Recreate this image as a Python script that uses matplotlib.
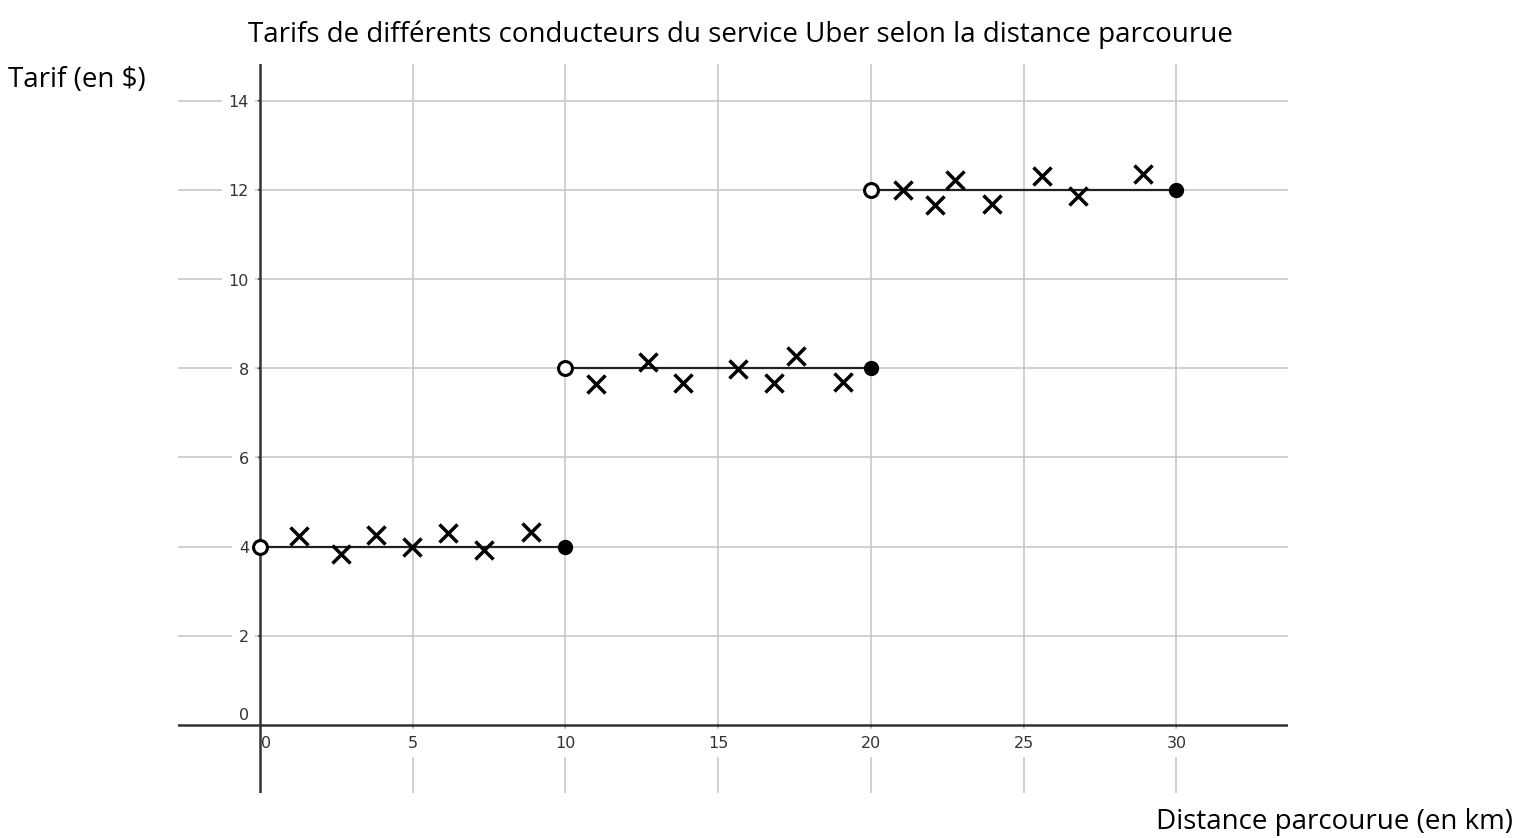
import matplotlib

matplotlib.use("Agg")
import matplotlib.pyplot as plt

# step function: fare per distance band
step_starts = [0, 10, 20]
step_ends = [10, 20, 30]
step_fares = [4, 8, 12]

# fares observed for different drivers
driver_km = [1.29, 2.64, 3.79, 4.99, 6.15, 7.33, 8.88,
             11.0, 12.69, 13.84, 15.66, 16.82, 17.53, 19.1,
             21.04, 22.1, 22.75, 23.95, 25.6, 26.77, 28.9]
driver_fare = [4.24, 3.84, 4.26, 4.0, 4.30, 3.93, 4.33,
               7.65, 8.13, 7.66, 7.99, 7.67, 8.28, 7.69,
               12.0, 11.66, 12.22, 11.68, 12.30, 11.87, 12.35]

x_ticks = [0, 5, 10, 15, 20, 25, 30]
y_ticks = [0, 2, 4, 6, 8, 10, 12, 14]

title = "Tarifs de différents conducteurs du service Uber selon la distance parcourue"
x_label = "Distance parcourue (en km)"
y_label = "Tarif (en $)"

text_font = "Open Sans"
tick_font = "DejaVu Sans"
axis_color = "#333333"
grid_color = "#c8c8c8"

fig = plt.figure(figsize=(15.26, 8.38), dpi=100)
ax = fig.add_axes([178 / 1526, 1 - 793 / 838, 1110 / 1526, 729 / 838])
ax.set_xlim(-2.684, 33.65)
ax.set_ylim(-1.52, 14.82)
for spine in ax.spines.values():
    spine.set_visible(False)
ax.set_xticks([])
ax.set_yticks([])

# grid
for xv in x_ticks[1:]:
    ax.axvline(xv, color=grid_color, lw=1.2, zorder=0)
for yv in y_ticks[1:]:
    ax.axhline(yv, color=grid_color, lw=1.2, zorder=0)

# axes through the origin
ax.axhline(0, color=axis_color, lw=1.8, zorder=2)
ax.axvline(0, color=axis_color, lw=1.8, zorder=2)

# tick marks and labels
for xv in x_ticks:
    if xv != 0:
        ax.annotate("", xy=(xv, 0), xytext=(0, -4), textcoords="offset pixels",
                    xycoords="data", arrowprops=dict(arrowstyle="-", color=axis_color, lw=1.2))
        ax.annotate(str(xv), xy=(xv, 0), xytext=(0, -18), textcoords="offset pixels",
                    ha="center", va="center", fontsize=11.5, family=tick_font, color=axis_color,
                    bbox=dict(boxstyle="square,pad=0.4", fc="white", ec="none"), zorder=3)
    else:
        ax.annotate(str(xv), xy=(xv, 0), xytext=(6, -18), textcoords="offset pixels",
                    ha="center", va="center", fontsize=11.5, family=tick_font, color=axis_color,
                    zorder=3)
for yv in y_ticks:
    if yv != 0:
        ax.annotate("", xy=(0, yv), xytext=(-4, 0), textcoords="offset pixels",
                    xycoords="data", arrowprops=dict(arrowstyle="-", color=axis_color, lw=1.2))
        ax.annotate(str(yv), xy=(0, yv), xytext=(-11, -2), textcoords="offset pixels",
                    ha="right", va="center", fontsize=11.5, family=tick_font, color=axis_color,
                    bbox=dict(boxstyle="square,pad=0.4", fc="white", ec="none"), zorder=3)
    else:
        ax.annotate(str(yv), xy=(0, yv), xytext=(-11, 10), textcoords="offset pixels",
                    ha="right", va="center", fontsize=11.5, family=tick_font, color=axis_color,
                    zorder=3)

# step function
for x0, x1, fare in zip(step_starts, step_ends, step_fares):
    ax.plot([x0, x1], [fare, fare], color="#222222", lw=1.6, zorder=4)
    ax.plot(x0, fare, "o", ms=10, mfc="white", mec="black", mew=2.2, zorder=6)
    ax.plot(x1, fare, "o", ms=10, mfc="black", mec="black", zorder=6)

ax.plot(driver_km, driver_fare, "x", ms=13, mew=2.5, color="black", zorder=5,
        linestyle="none")

fig.text(740 / 1526, 1 - 35 / 838, title, ha="center", va="center",
         fontsize=20, family=text_font, color="black")
fig.text(8 / 1526, 1 - 80 / 838, y_label, ha="left", va="center",
         fontsize=20, family=text_font, color="black")
fig.text(1513 / 1526, 1 - 822 / 838, x_label, ha="right", va="center",
         fontsize=20, family=text_font, color="black")

fig.savefig("out.png", dpi=100)
